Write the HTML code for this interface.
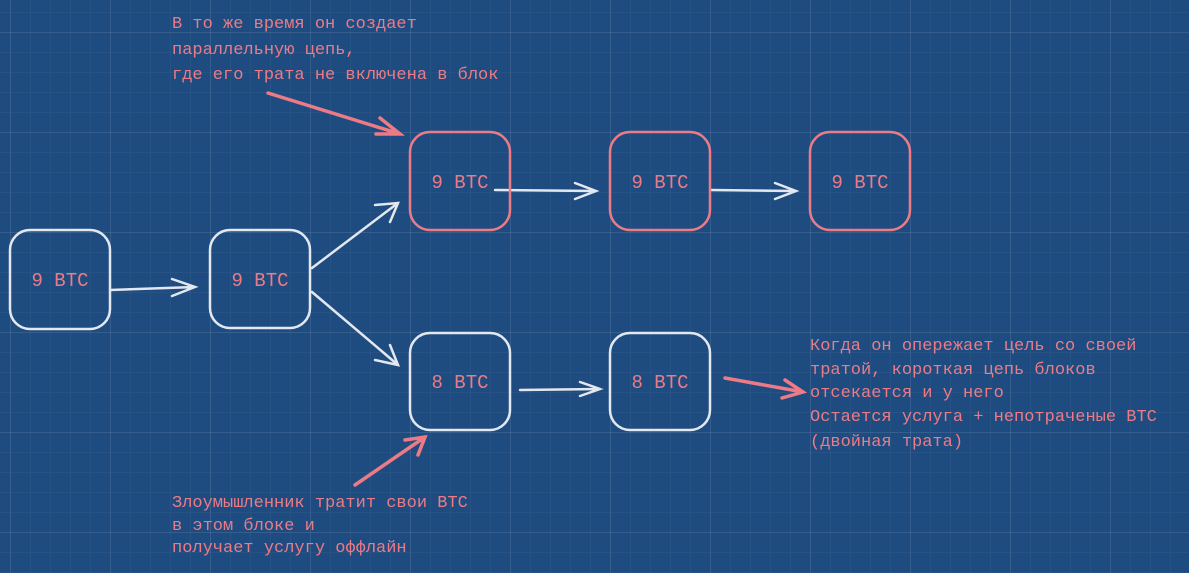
<!DOCTYPE html>
<html><head><meta charset="utf-8"><style>
body{margin:0;width:1189px;height:568px;overflow:hidden;background:#1f4c80;
background-image:
linear-gradient(rgba(255,255,255,0.07) 1px,transparent 1px),
linear-gradient(90deg,rgba(255,255,255,0.07) 1px,transparent 1px),
linear-gradient(rgba(255,255,255,0.03) 1px,transparent 1px),
linear-gradient(90deg,rgba(255,255,255,0.03) 1px,transparent 1px);
background-size:100px 100px,100px 100px,20px 20px,20px 20px;
background-position:10px 32px,10px 32px,10px 32px,10px 32px;}
text{font-family:"Liberation Mono",monospace;}
</style></head><body>
<svg width="1189" height="568" viewBox="0 0 1189 568" xmlns="http://www.w3.org/2000/svg">
<g fill="none" stroke-width="2.5" stroke-linecap="round">
<g stroke="#e3e8f0">
<rect x="10" y="230" width="100" height="99" rx="20"/>
<rect x="210" y="230" width="100" height="98" rx="20"/>
<rect x="410" y="333" width="100" height="97" rx="20"/>
<rect x="610" y="333" width="100" height="97" rx="20"/>
<path d="M110 290 L195 287 M172 279 L195 287 L172 296"/>
<path d="M312 268 L398 203 M375 205 L398 203 L390 222"/>
<path d="M312 292 L398 365 M390 345 L398 365 L375 360"/>
<path d="M495 190 L596 191 M575 183 L596 191 L575 199"/>
<path d="M710 190 L796 191 M775 183 L796 191 L775 199"/>
<path d="M520 390 L600 389 M580 382 L600 389 L580 396"/>
</g>
<g stroke="#ec7b86">
<rect x="410" y="132" width="100" height="98" rx="20"/>
<rect x="610" y="132" width="100" height="98" rx="20"/>
<rect x="810" y="132" width="100" height="98" rx="20"/>
<path d="M268 93 L400 134 M380 118 L400 134 L376 134" stroke-width="3.5"/>
<path d="M355 485 L425 437 M405 440 L425 437 L418 455" stroke-width="3.5"/>
<path d="M725 378 L803 392 M785 380 L803 392 L782 398" stroke-width="3.5"/>
</g>
</g>
<g fill="#ec7b86" font-size="19" text-anchor="middle" style="font-family:'Liberation Sans',sans-serif">
<text x="60" y="286">9 BTC</text>
<text x="260" y="286">9 BTC</text>
<text x="460" y="188">9 BTC</text>
<text x="660" y="188">9 BTC</text>
<text x="860" y="188">9 BTC</text>
<text x="460" y="388">8 BTC</text>
<text x="660" y="388">8 BTC</text>
</g>
<g fill="#ec7b86" font-size="17">
<text x="172" y="28">В то же время он создает</text>
<text x="172" y="54">параллельную цепь,</text>
<text x="172" y="79">где его трата не включена в блок</text>
<text x="172" y="507">Злоумышленник тратит свои BTC</text>
<text x="172" y="530">в этом блоке и</text>
<text x="172" y="552">получает услугу оффлайн</text>
<text x="810" y="350">Когда он опережает цель со своей</text>
<text x="810" y="374">тратой, короткая цепь блоков</text>
<text x="810" y="397">отсекается и у него</text>
<text x="810" y="421">Остается услуга + непотраченые BTC</text>
<text x="810" y="446">(двойная трата)</text>
</g>
</svg>
</body></html>
